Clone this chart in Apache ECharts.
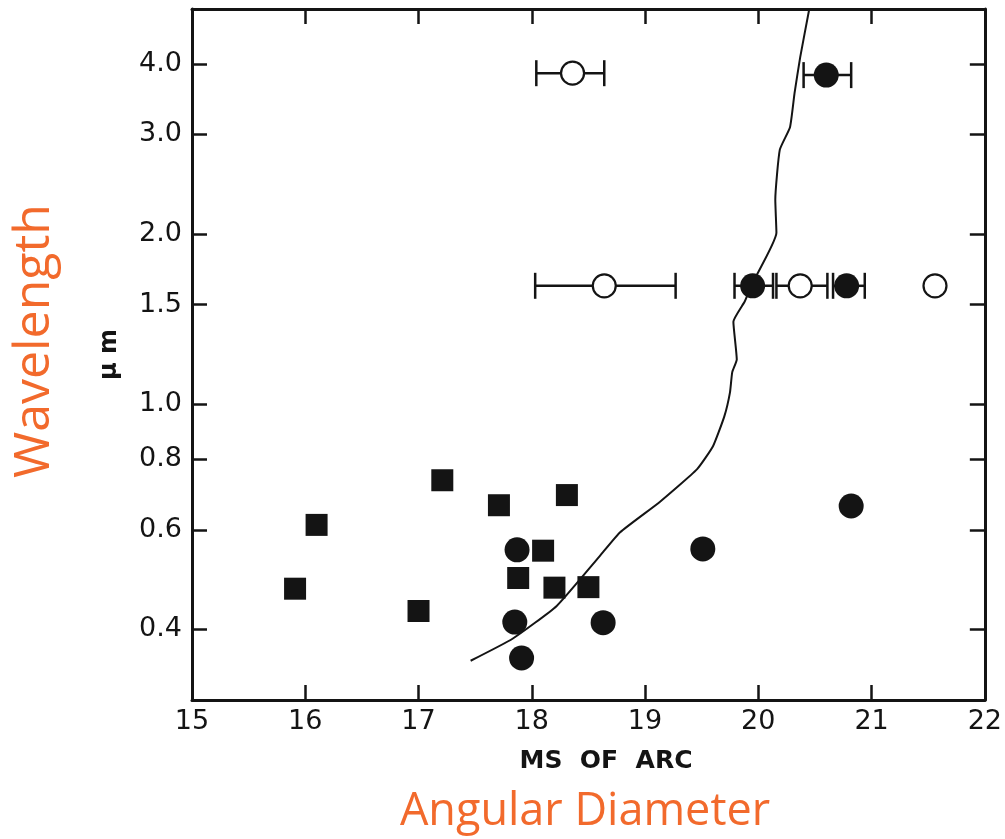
<!DOCTYPE html>
<html>
<head>
<meta charset="utf-8">
<script src="https://cdn.jsdelivr.net/npm/echarts@6/dist/echarts.min.js"></script>
<style>
html,body{margin:0;padding:0;background:#fff;}
#chart{width:1005px;height:839px;}
</style>
</head>
<body>
<div id="chart"></div>
<script>
// ---- data (angular diameter in mas, wavelength in µm) ----
const xTicks = [15, 16, 17, 18, 19, 20, 21, 22];
const yTickLabels = [0.4, 0.6, 0.8, 1.0, 1.5, 2.0, 3.0, 4.0];

const squaresX = [15.91, 16.10, 17.00, 17.21, 17.71, 17.88, 18.10, 18.20, 18.31, 18.50];
const squaresY = [0.472, 0.612, 0.431, 0.734, 0.663, 0.493, 0.551, 0.474, 0.691, 0.475];

const filledX = [17.87, 17.85, 17.91, 18.63, 19.51, 20.82, 20.60, 19.95, 20.78];
const filledY = [0.553, 0.412, 0.356, 0.411, 0.555, 0.661, 3.82, 1.62, 1.62];

const openX = [18.36, 18.64, 20.37, 21.56];
const openY = [3.85, 1.62, 1.62, 1.62];

// error bars: low x, high x, wavelength
const errLow  = [18.04, 18.03, 20.40, 19.79, 20.16, 20.66];
const errHigh = [18.64, 19.27, 20.82, 20.13, 20.61, 20.94];
const errY    = [3.85, 1.62, 3.82, 1.62, 1.62, 1.62];

const curveX = [17.46, 17.83, 18.22, 18.60, 18.78, 19.13, 19.46, 19.60, 19.70, 19.75, 19.77, 19.81, 19.78, 19.88, 19.95, 20.16, 20.15, 20.19, 20.28, 20.32, 20.37, 20.45];
const curveY = [0.352, 0.385, 0.440, 0.539, 0.594, 0.672, 0.768, 0.843, 0.952, 1.05, 1.14, 1.20, 1.40, 1.52, 1.64, 2.01, 2.30, 2.82, 3.09, 3.55, 4.11, 5.0];

const yMin = 0.3, yMax = 5.0;

// ---- build ----
const L = v => Math.log10(v);
const pairs = (xs, ys) => xs.map((x, i) => [x, L(ys[i])]);
const ink = '#141414';
const orange = '#F26A2C';
const yTickLog = yTickLabels.map(L);

const chart = echarts.init(document.getElementById('chart'));

const baseX = {
  type: 'value', min: 15, max: 22, interval: 1,
  axisLine: {show: true, onZero: false, lineStyle: {color: ink, width: 3}},
  axisTick: {show: true, inside: true, length: 15, lineStyle: {color: ink, width: 2.5}},
  splitLine: {show: false}
};
const baseY = {
  type: 'value', min: L(yMin), max: L(yMax),
  axisLine: {show: true, onZero: false, lineStyle: {color: ink, width: 3}},
  axisTick: {show: true, inside: true, length: 15, customValues: yTickLog, lineStyle: {color: ink, width: 2.5}},
  splitLine: {show: false}
};

chart.setOption({
  animation: false,
  backgroundColor: '#fff',
  grid: {left: 192, right: 20, top: 9, bottom: 139, containLabel: false},
  xAxis: [
    Object.assign({}, baseX, {
      position: 'bottom',
      axisLabel: {show: true, margin: 8, fontFamily: 'DejaVu Sans', fontSize: 27, color: ink,
        customValues: xTicks, formatter: v => String(v)}
    }),
    Object.assign({}, baseX, {position: 'top', axisLabel: {show: false}})
  ],
  yAxis: [
    Object.assign({}, baseY, {
      position: 'left',
      axisLabel: {show: true, margin: 10, fontFamily: 'DejaVu Sans', fontSize: 27, color: ink,
        customValues: yTickLog, formatter: v => Math.pow(10, v).toFixed(1)},
      name: 'μ m', nameLocation: 'middle', nameGap: 70, nameRotate: 90,
      nameTextStyle: {fontFamily: 'DejaVu Sans', fontWeight: 'bold', fontSize: 24, color: ink}
    }),
    Object.assign({}, baseY, {position: 'right', axisLabel: {show: false}})
  ],
  graphic: [
    {type: 'text', x: 606, y: 761,
      style: {text: 'MS  OF  ARC', fontFamily: 'DejaVu Sans', fontWeight: 'bold', fontSize: 25, fill: ink,
        align: 'center', verticalAlign: 'middle'}},
    {type: 'text', x: 585, y: 812,
      style: {text: 'Angular Diameter', fontFamily: 'Open Sans', fontSize: 45, fill: orange,
        align: 'center', verticalAlign: 'middle'}},
    {type: 'text', x: 10, y: 478, rotation: Math.PI / 2,
      style: {text: 'Wavelength', fontFamily: 'Open Sans', fontSize: 50, fill: orange}}
  ],
  series: [
    {
      type: 'line', data: pairs(curveX, curveY), showSymbol: false, symbol: 'none',
      smooth: 0.15, lineStyle: {color: ink, width: 2}, z: 2
    },
    {
      type: 'custom', z: 3,
      data: errLow.map((lo, i) => [lo, errHigh[i], L(errY[i])]),
      encode: {x: [0, 1], y: 2},
      renderItem: function (params, api) {
        const a = api.coord([api.value(0), api.value(2)]);
        const b = api.coord([api.value(1), api.value(2)]);
        const h = 13;
        const st = {stroke: ink, lineWidth: 2.5};
        return {type: 'group', children: [
          {type: 'line', shape: {x1: a[0], y1: a[1], x2: b[0], y2: b[1]}, style: st},
          {type: 'line', shape: {x1: a[0], y1: a[1] - h, x2: a[0], y2: a[1] + h}, style: st},
          {type: 'line', shape: {x1: b[0], y1: b[1] - h, x2: b[0], y2: b[1] + h}, style: st}
        ]};
      }
    },
    {
      type: 'scatter', data: pairs(squaresX, squaresY), symbol: 'rect', symbolSize: 22,
      itemStyle: {color: ink, opacity: 1}, z: 4
    },
    {
      type: 'scatter', data: pairs(filledX, filledY), symbol: 'circle', symbolSize: 25,
      itemStyle: {color: ink, opacity: 1}, z: 4
    },
    {
      type: 'scatter', data: pairs(openX, openY), symbol: 'circle', symbolSize: 23,
      itemStyle: {color: '#fff', borderColor: ink, borderWidth: 2.2, opacity: 1}, z: 4
    }
  ]
});
</script>
</body>
</html>
